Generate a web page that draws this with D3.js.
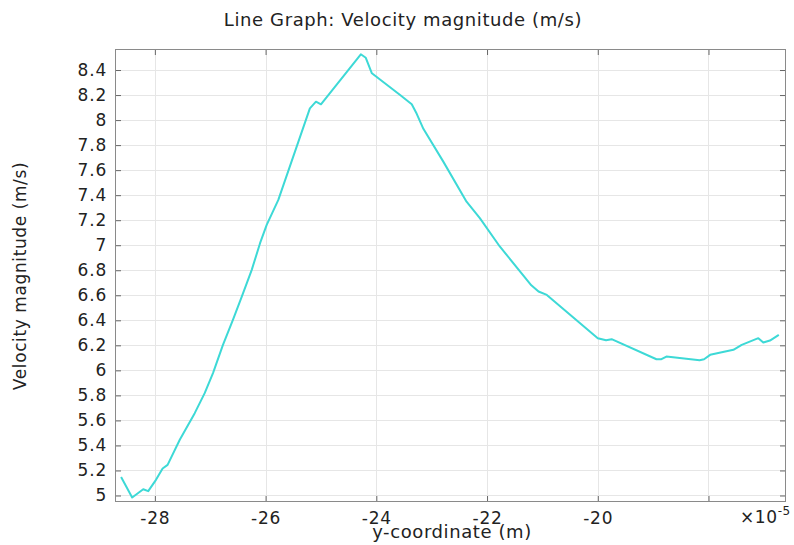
<!DOCTYPE html>
<html>
<head>
<meta charset="utf-8">
<script src="https://cdn.jsdelivr.net/npm/d3@7"></script>
<style>
  body { margin: 0; background: #fff; }
  text { font-family: "DejaVu Sans", sans-serif; fill: #222; }
</style>
</head>
<body>
<svg id="chart" width="794" height="545"></svg>
<script>
// y-coordinate in units of 1e-5 m
const yCoord = [-28.61, -28.41, -28.21, -28.12, -27.98, -27.86, -27.77, -27.55, -27.28, -27.10,
  -26.95, -26.77, -26.59, -26.43, -26.25, -26.10, -25.98, -25.77, -25.20, -25.09,
  -25.00, -24.28, -24.19, -24.08, -23.57, -23.36, -23.27, -23.15, -22.79, -22.37,
  -22.13, -21.77, -21.20, -21.07, -20.92, -20.00, -19.85, -19.75, -18.94, -18.85,
  -18.76, -18.16, -18.08, -17.97, -17.55, -17.40, -17.10, -17.01, -16.89, -16.73]
const velocity = [5.147, 4.984, 5.05, 5.035, 5.125, 5.216, 5.245, 5.445, 5.658, 5.818,
  5.978, 6.204, 6.404, 6.589, 6.803, 7.016, 7.162, 7.362, 8.094, 8.147,
  8.126, 8.526, 8.498, 8.374, 8.2, 8.126, 8.05, 7.93, 7.668, 7.348,
  7.216, 6.99, 6.68, 6.63, 6.603, 6.257, 6.241, 6.249, 6.089, 6.089,
  6.11, 6.081, 6.089, 6.124, 6.164, 6.204, 6.257, 6.222, 6.238, 6.284]

const xTicks = [-28, -26, -24, -22, -20, -18]
const xTickLabels = ['-28', '-26', '-24', '-22', '-20', '']
const yTicks = d3.range(0, 18).map(i => +(5 + i * 0.2).toFixed(1))

const svg = d3.select('#chart')
const m = { left: 115, right: 786, top: 49, bottom: 502 }

const x = d3.scaleLinear().domain([-28.72, -16.6]).range([m.left, m.right])
const y = d3.scaleLinear().domain([4.948, 8.568]).range([m.bottom, m.top])

// grid
const grid = svg.append('g').attr('stroke', '#e6e6e6').attr('stroke-width', 1)
grid.selectAll('.gx').data(xTicks).join('line')
    .attr('x1', d => Math.round(x(d)) + 0.5).attr('x2', d => Math.round(x(d)) + 0.5)
    .attr('y1', m.top).attr('y2', m.bottom)
grid.selectAll('.gy').data(yTicks).join('line')
    .attr('y1', d => Math.round(y(d)) + 0.5).attr('y2', d => Math.round(y(d)) + 0.5)
    .attr('x1', m.left).attr('x2', m.right)

// axes with inward ticks
const axB = svg.append('g').attr('transform', `translate(0,${m.bottom})`)
    .call(d3.axisBottom(x).tickValues(xTicks).tickSize(-6).tickPadding(10)
      .tickFormat((d, i) => xTickLabels[i]))
const axT = svg.append('g').attr('transform', `translate(0,${m.top})`)
    .call(d3.axisTop(x).tickValues(xTicks).tickSize(-6).tickFormat(''))
const axL = svg.append('g').attr('transform', `translate(${m.left},0)`)
    .call(d3.axisLeft(y).tickValues(yTicks).tickSize(-6).tickPadding(8)
      .tickFormat(d => String(d)))
const axR = svg.append('g').attr('transform', `translate(${m.right},0)`)
    .call(d3.axisRight(y).tickValues(yTicks).tickSize(-6).tickFormat(''))

;[axB, axT, axL, axR].forEach(g => {
    g.select('.domain').remove()
    g.selectAll('line').attr('stroke', '#666')
    g.selectAll('text').style('font-size', '17px').style('letter-spacing', '0.8px')
        .attr('fill', '#222')
})

svg.append('rect')
    .attr('x', m.left + 0.5).attr('y', m.top + 0.5)
    .attr('width', m.right - m.left - 1).attr('height', m.bottom - m.top - 1)
    .attr('fill', 'none').attr('stroke', '#8a8a8a')

// line
const line = d3.line().x((d, i) => x(yCoord[i])).y(d => y(d))
svg.append('path')
    .datum(velocity)
    .attr('d', line)
    .attr('fill', 'none')
    .attr('stroke', '#3dd9d6')
    .attr('stroke-width', 2)
    .attr('stroke-linejoin', 'round')

// texts
svg.append('text').attr('x', 403).attr('y', 26).attr('text-anchor', 'middle')
    .style('font-size', '18px').style('letter-spacing', '0.6px')
    .text('Line Graph: Velocity magnitude (m/s)')
svg.append('text').attr('x', 452).attr('y', 538).attr('text-anchor', 'middle')
    .style('font-size', '18px').style('letter-spacing', '0.6px')
    .text('y-coordinate (m)')
svg.append('text').attr('transform', `translate(26,276) rotate(-90)`)
    .attr('text-anchor', 'middle').style('font-size', '17px').style('letter-spacing', '0.6px')
    .text('Velocity magnitude (m/s)')

const ex = svg.append('text').attr('x', 740).attr('y', 523).style('font-size', '17px')
    .style('letter-spacing', '0.6px')
ex.append('tspan').text('×10')
ex.append('tspan').attr('dy', -8).style('font-size', '12px').text('-5')
</script>
</body>
</html>
